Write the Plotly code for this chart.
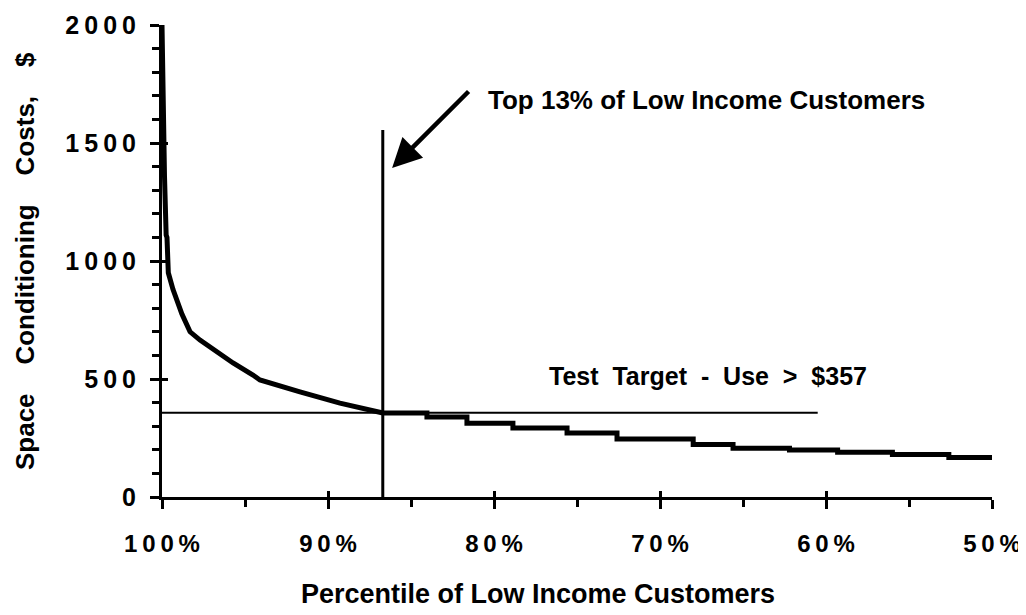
import plotly.graph_objects as go

# percentile of low income customers (x) vs space conditioning cost, $ (y)
# steep upper part of the curve
head_pct = [100.0, 99.9, 99.85, 99.75, 99.7, 99.62, 99.34, 98.8, 98.31, 97.71,
            96.69, 95.72, 94.52, 94.1, 91.69, 89.28, 86.69]
head_cost = [2000, 1370, 1360, 1110, 1100, 950, 880, 775, 700, 665,
             614, 568, 517, 496, 445, 398, 356]
# stepped lower part of the curve
tail_pct = [86.69, 84.04, 81.63, 78.86, 75.6, 72.59, 68.0, 65.6, 62.2, 59.3,
            56.0, 52.6, 50.0]
tail_cost = [356, 339, 313, 292, 271, 246, 222, 207, 199, 190, 180, 167, 161]

target_x = [100, 60.5]
target_y = [357, 357]
cut_x = [86.7, 86.7]
cut_y = [0, 1555]

x_ticks = [100, 90, 80, 70, 60, 50]
x_minor = [95, 85, 75, 65, 55]
y_ticks = [0, 500, 1000, 1500, 2000]
y_minor = [v for v in range(0, 2001, 100) if v % 500]

TS = "\u2009"
NB = "\u00a0"
x_text = [f"<b>{TS.join(str(v) + '%')}</b>" for v in x_ticks]
y_text = [f"<b>{TS.join(str(v))}</b>" for v in y_ticks]

FONT = "Liberation Sans, Arial, sans-serif"
BLACK = "#000000"

fig = go.Figure()

fig.add_trace(go.Scatter(
    x=head_pct, y=head_cost, mode="lines", line={"color": BLACK, "width": 5},
    showlegend=False, hoverinfo="skip"
))
fig.add_trace(go.Scatter(
    x=tail_pct, y=tail_cost, mode="lines", line={"color": BLACK, "width": 5, "shape": "hv"},
    showlegend=False, hoverinfo="skip"
))
fig.add_trace(go.Scatter(
    x=target_x, y=target_y, mode="lines", line={"color": BLACK, "width": 2},
    xaxis="x2", yaxis="y2", showlegend=False, hoverinfo="skip"
))
fig.add_trace(go.Scatter(
    x=cut_x, y=cut_y, mode="lines", line={"color": BLACK, "width": 3},
    showlegend=False, hoverinfo="skip"
))

axis_common = {"showgrid": False, "zeroline": False, "color": BLACK, "automargin": False}

# the page body has an 8px margin, so the margins are shifted to compensate
fig.update_layout(
    width=1026, height=615,
    paper_bgcolor="white", plot_bgcolor="white",
    font={"family": FONT, "color": BLACK, "size": 24},
    margin={"l": 154, "r": 42, "t": 17, "b": 126},
    xaxis={**axis_common, "range": [100, 50], "showline": True, "linewidth": 3,
           "linecolor": BLACK, "tickmode": "array", "tickvals": x_ticks,
           "ticktext": x_text, "ticks": "outside", "ticklen": 9, "tickwidth": 3,
           "tickcolor": BLACK, "ticklabelstandoff": 14,
           "minor": {"tickmode": "array", "tickvals": x_minor, "ticks": "outside",
                     "ticklen": 7, "tickwidth": 3, "tickcolor": BLACK}},
    yaxis={**axis_common, "range": [0, 2000], "showline": True, "linewidth": 3,
           "linecolor": BLACK, "tickmode": "array", "tickvals": y_ticks,
           "ticktext": y_text, "ticks": "outside", "ticklen": 9, "tickwidth": 3,
           "tickcolor": BLACK, "ticklabelstandoff": 9, "tickfont": {"size": 25},
           "minor": {"tickmode": "array", "tickvals": y_minor, "ticks": "outside",
                     "ticklen": 7, "tickwidth": 3, "tickcolor": BLACK}},
    xaxis2={**axis_common, "range": [100, 50], "overlaying": "x", "anchor": "y2",
            "tickmode": "array", "tickvals": x_ticks, "ticks": "inside",
            "ticklen": 6, "tickwidth": 3, "tickcolor": BLACK, "showticklabels": False},
    yaxis2={**axis_common, "range": [0, 2000], "overlaying": "y", "anchor": "x2",
            "tickmode": "array", "tickvals": y_ticks, "ticks": "inside",
            "ticklen": 6, "tickwidth": 3, "tickcolor": BLACK, "showticklabels": False},
    annotations=[
        dict(text="Top 13% of Low Income Customers", x=67.2, y=1682,
             xref="x", yref="y", showarrow=False,
             font={"size": 26, "family": FONT, "weight": "bold"}),
        dict(text="", x=86.14, y=1394, xref="x", yref="y", showarrow=True,
             ax=78, ay=-78, arrowhead=2, arrowsize=1.3, arrowwidth=4.5,
             arrowcolor=BLACK),
        dict(text=f"Test{NB} Target{NB} -{NB} Use{NB} >{NB} $357", x=67.1, y=513,
             xref="x", yref="y", showarrow=False,
             font={"size": 25, "family": FONT, "weight": "bold"}),
        dict(text="<b>Percentile of Low Income Customers</b>", x=0.453, y=-0.2055,
             xref="paper", yref="paper", xanchor="center", yanchor="middle",
             showarrow=False, font={"size": 27}),
        dict(text=f"<b>Space{NB * 4}Conditioning{NB * 4}Costs,{NB * 4}$</b>",
             x=-0.165, y=0.50, xref="paper", yref="paper", xanchor="center",
             yanchor="middle", showarrow=False, textangle=-90, font={"size": 26}),
    ],
)

fig.write_html("out.html")
